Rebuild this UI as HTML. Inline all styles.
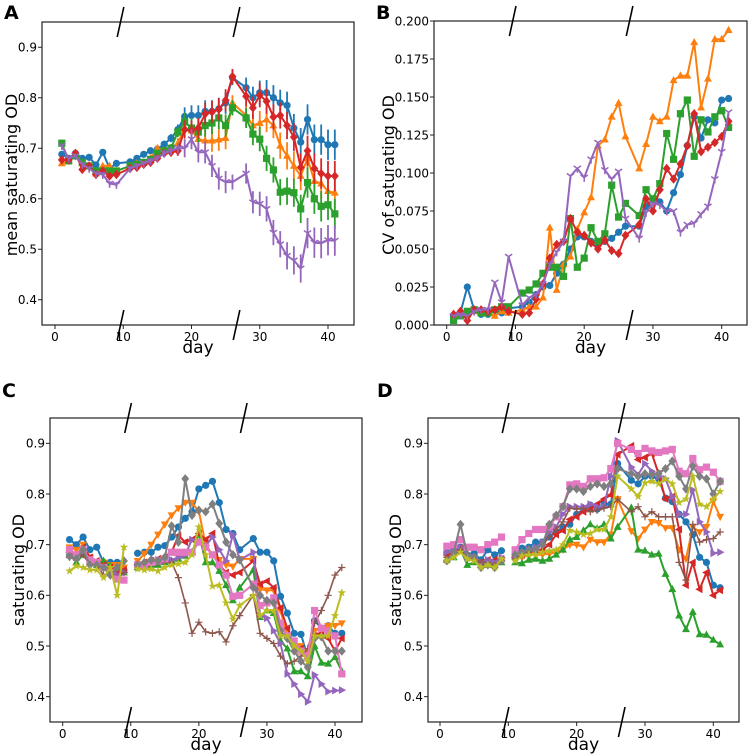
<!DOCTYPE html>
<html><head><meta charset="utf-8">
<style>
html,body{margin:0;padding:0;background:#fff;}
svg{display:block;font-family:"DejaVu Sans","Liberation Sans",sans-serif;}
</style></head>
<body>
<svg id="fig" width="749" height="756" viewBox="0 0 749 756" xmlns="http://www.w3.org/2000/svg"></svg>
<script>
const days=[1,2,3,4,5,6,7,8,9,11,12,13,14,15,16,17,18,19,20,21,22,23,24,25,26,28,29,30,31,32,33,34,35,36,37,38,39,40,41];
const xTicks=[0,10,20,30,40];
const odTicks=[0.4,0.5,0.6,0.7,0.8,0.9];
const odTickLabels=["0.4","0.5","0.6","0.7","0.8","0.9"];
const cvTicks=[0,0.025,0.05,0.075,0.1,0.125,0.15,0.175,0.2];
const cvTickLabels=["0.000","0.025","0.050","0.075","0.100","0.125","0.150","0.175","0.200"];

// Panel A: mean saturating OD
const aBlue=[0.688,0.68,0.69,0.68,0.682,0.667,0.692,0.66,0.67,0.673,0.68,0.688,0.695,0.698,0.708,0.72,0.737,0.763,0.765,0.765,0.773,0.773,0.778,0.79,0.84,0.82,0.80,0.81,0.81,0.80,0.79,0.785,0.74,0.712,0.757,0.717,0.717,0.707,0.707];
const aOrange=[0.67,0.675,0.69,0.67,0.665,0.65,0.665,0.665,0.655,0.665,0.67,0.672,0.68,0.70,0.695,0.70,0.71,0.74,0.735,0.718,0.715,0.715,0.717,0.72,0.79,0.765,0.745,0.75,0.757,0.745,0.705,0.685,0.665,0.645,0.68,0.635,0.63,0.615,0.612];
const aGreen=[0.71,0.675,0.685,0.672,0.665,0.655,0.655,0.655,0.655,0.665,0.668,0.672,0.678,0.69,0.695,0.70,0.732,0.752,0.74,0.732,0.745,0.75,0.76,0.745,0.78,0.76,0.728,0.718,0.68,0.657,0.613,0.615,0.612,0.58,0.632,0.60,0.585,0.588,0.57];
const aRed=[0.677,0.677,0.69,0.658,0.665,0.648,0.655,0.645,0.648,0.66,0.662,0.668,0.672,0.68,0.69,0.692,0.695,0.737,0.735,0.74,0.768,0.772,0.777,0.795,0.842,0.803,0.78,0.805,0.793,0.762,0.765,0.745,0.722,0.662,0.695,0.66,0.65,0.645,0.645];
const aPurple=[0.705,0.68,0.685,0.668,0.66,0.65,0.648,0.63,0.628,0.66,0.665,0.67,0.675,0.68,0.69,0.695,0.70,0.70,0.718,0.692,0.692,0.665,0.64,0.633,0.633,0.65,0.593,0.59,0.58,0.533,0.51,0.487,0.478,0.462,0.532,0.513,0.512,0.518,0.517];
const aErr=[0.004,0.004,0.004,0.004,0.004,0.004,0.005,0.005,0.005,0.005,0.005,0.005,0.006,0.007,0.007,0.008,0.01,0.018,0.02,0.02,0.022,0.022,0.022,0.022,0.015,0.02,0.022,0.024,0.025,0.025,0.026,0.027,0.028,0.028,0.03,0.03,0.03,0.03,0.03];

// Panel B: CV
const bBlue=[0.006,0.008,0.025,0.01,0.007,0.007,0.01,0.008,0.011,0.012,0.015,0.02,0.025,0.026,0.034,0.04,0.05,0.058,0.058,0.055,0.053,0.055,0.057,0.061,0.065,0.065,0.078,0.082,0.081,0.075,0.087,0.099,0.118,0.137,0.123,0.135,0.133,0.148,0.149];
const bOrange=[0.005,0.007,0.007,0.009,0.009,0.008,0.006,0.009,0.008,0.01,0.012,0.012,0.018,0.064,0.023,0.04,0.045,0.063,0.074,0.084,0.118,0.122,0.137,0.146,0.124,0.103,0.119,0.137,0.134,0.137,0.161,0.164,0.164,0.186,0.143,0.162,0.188,0.188,0.194];
const bGreen=[0.003,0.006,0.009,0.01,0.008,0.008,0.01,0.012,0.012,0.021,0.023,0.027,0.034,0.038,0.038,0.032,0.07,0.038,0.044,0.064,0.055,0.06,0.092,0.071,0.08,0.072,0.089,0.083,0.093,0.126,0.109,0.139,0.148,0.111,0.135,0.127,0.137,0.141,0.13];
const bRed=[0.007,0.009,0.003,0.01,0.01,0.009,0.01,0.012,0.009,0.007,0.008,0.017,0.027,0.044,0.053,0.055,0.07,0.061,0.059,0.054,0.05,0.056,0.049,0.047,0.059,0.066,0.083,0.075,0.089,0.103,0.096,0.106,0.118,0.139,0.114,0.117,0.12,0.124,0.134];
const bPurple=[0.006,0.007,0.006,0.009,0.01,0.01,0.028,0.015,0.045,0.013,0.018,0.02,0.027,0.04,0.048,0.055,0.098,0.103,0.097,0.109,0.12,0.102,0.096,0.101,0.07,0.057,0.074,0.08,0.079,0.075,0.075,0.061,0.066,0.067,0.073,0.078,0.096,0.114,0.14];

// Panel C
const cBlue=[0.71,0.70,0.715,0.69,0.695,0.665,0.665,0.665,0.65,0.683,0.685,0.685,0.695,0.698,0.715,0.735,0.752,0.765,0.81,0.817,0.825,0.783,0.73,0.722,0.69,0.712,0.685,0.685,0.668,0.598,0.565,0.525,0.523,0.478,0.55,0.535,0.54,0.525,0.525];
const cOrange=[0.695,0.69,0.70,0.675,0.665,0.665,0.66,0.66,0.655,0.668,0.682,0.70,0.72,0.74,0.758,0.772,0.783,0.783,0.765,0.70,0.68,0.67,0.66,0.657,0.672,0.672,0.612,0.61,0.61,0.57,0.52,0.50,0.50,0.49,0.53,0.535,0.54,0.54,0.545];
const cGreen=[0.685,0.665,0.68,0.668,0.66,0.668,0.658,0.64,0.645,0.655,0.655,0.655,0.66,0.665,0.668,0.672,0.678,0.685,0.722,0.665,0.665,0.648,0.62,0.59,0.615,0.65,0.557,0.57,0.565,0.51,0.495,0.45,0.45,0.44,0.50,0.467,0.465,0.478,0.45];
const cRed=[0.685,0.68,0.695,0.675,0.668,0.66,0.655,0.645,0.65,0.66,0.665,0.668,0.672,0.675,0.685,0.718,0.705,0.71,0.722,0.71,0.722,0.66,0.645,0.64,0.645,0.668,0.622,0.628,0.615,0.575,0.535,0.50,0.495,0.475,0.52,0.525,0.515,0.49,0.515];
const cPurple=[0.68,0.675,0.685,0.67,0.665,0.655,0.645,0.64,0.645,0.66,0.66,0.665,0.67,0.668,0.67,0.675,0.68,0.71,0.705,0.698,0.715,0.69,0.668,0.72,0.67,0.685,0.56,0.555,0.53,0.505,0.445,0.425,0.405,0.39,0.443,0.425,0.41,0.412,0.413];
const cBrown=[0.675,0.67,0.68,0.66,0.66,0.64,0.645,0.635,0.645,0.655,0.655,0.66,0.665,0.665,0.665,0.635,0.585,0.525,0.547,0.528,0.525,0.528,0.508,0.54,0.56,0.60,0.525,0.515,0.505,0.48,0.465,0.47,0.48,0.495,0.545,0.57,0.60,0.64,0.655];
const cPink=[0.69,0.68,0.69,0.67,0.665,0.655,0.645,0.632,0.63,0.66,0.66,0.665,0.668,0.672,0.685,0.685,0.685,0.685,0.705,0.695,0.68,0.66,0.64,0.598,0.60,0.622,0.58,0.585,0.595,0.545,0.52,0.51,0.49,0.48,0.57,0.535,0.53,0.52,0.445];
const cGray=[0.677,0.672,0.69,0.66,0.66,0.655,0.64,0.655,0.668,0.66,0.665,0.67,0.668,0.675,0.737,0.705,0.83,0.758,0.768,0.765,0.78,0.742,0.705,0.68,0.67,0.615,0.60,0.59,0.585,0.53,0.515,0.49,0.47,0.458,0.515,0.518,0.49,0.49,0.49];
const cOlive=[0.648,0.658,0.655,0.65,0.65,0.635,0.655,0.60,0.695,0.652,0.65,0.652,0.648,0.655,0.66,0.662,0.665,0.68,0.735,0.68,0.618,0.62,0.585,0.553,0.58,0.60,0.56,0.57,0.57,0.52,0.52,0.50,0.49,0.47,0.52,0.52,0.52,0.56,0.605];

// Panel D
const dBlue=[0.685,0.69,0.695,0.68,0.683,0.67,0.69,0.68,0.688,0.68,0.693,0.695,0.705,0.705,0.715,0.725,0.735,0.74,0.76,0.77,0.778,0.77,0.78,0.78,0.86,0.827,0.82,0.835,0.835,0.83,0.792,0.785,0.76,0.745,0.72,0.675,0.665,0.62,0.615];
const dOrange=[0.675,0.68,0.69,0.675,0.672,0.66,0.665,0.66,0.668,0.672,0.675,0.68,0.68,0.68,0.682,0.685,0.69,0.70,0.70,0.695,0.71,0.705,0.705,0.72,0.79,0.727,0.712,0.73,0.745,0.743,0.733,0.733,0.69,0.672,0.735,0.725,0.735,0.785,0.755];
const dGreen=[0.67,0.675,0.69,0.66,0.665,0.66,0.66,0.665,0.665,0.665,0.663,0.67,0.672,0.668,0.672,0.68,0.69,0.71,0.715,0.728,0.74,0.732,0.74,0.712,0.735,0.773,0.69,0.688,0.68,0.682,0.642,0.612,0.56,0.533,0.567,0.523,0.522,0.512,0.503];
const dRed=[0.68,0.685,0.693,0.675,0.672,0.665,0.67,0.67,0.672,0.675,0.68,0.685,0.69,0.69,0.70,0.72,0.728,0.75,0.755,0.765,0.77,0.78,0.79,0.798,0.878,0.895,0.868,0.872,0.88,0.84,0.79,0.795,0.73,0.62,0.665,0.612,0.645,0.60,0.61];
const dPurple=[0.685,0.69,0.695,0.675,0.675,0.665,0.67,0.665,0.675,0.675,0.68,0.69,0.695,0.705,0.725,0.735,0.76,0.775,0.775,0.775,0.78,0.775,0.775,0.835,0.905,0.853,0.838,0.86,0.845,0.835,0.83,0.795,0.76,0.76,0.808,0.745,0.725,0.683,0.685];
const dBrown=[0.675,0.68,0.69,0.675,0.675,0.665,0.665,0.66,0.668,0.672,0.68,0.685,0.69,0.70,0.715,0.73,0.745,0.772,0.77,0.772,0.765,0.768,0.772,0.775,0.79,0.765,0.775,0.755,0.765,0.755,0.755,0.755,0.665,0.63,0.74,0.705,0.71,0.712,0.725];
const dPink=[0.697,0.70,0.71,0.695,0.695,0.69,0.70,0.705,0.715,0.69,0.71,0.722,0.73,0.73,0.735,0.755,0.775,0.818,0.82,0.815,0.83,0.83,0.832,0.85,0.90,0.888,0.88,0.89,0.885,0.882,0.885,0.888,0.845,0.84,0.87,0.848,0.853,0.843,0.825];
const dGray=[0.668,0.685,0.74,0.68,0.675,0.655,0.66,0.655,0.668,0.68,0.685,0.69,0.69,0.70,0.74,0.758,0.775,0.81,0.81,0.805,0.815,0.82,0.815,0.82,0.85,0.84,0.835,0.84,0.838,0.84,0.85,0.865,0.835,0.81,0.855,0.835,0.83,0.80,0.825];
const dOlive=[0.668,0.675,0.685,0.672,0.668,0.655,0.66,0.655,0.672,0.668,0.678,0.68,0.68,0.685,0.688,0.69,0.70,0.728,0.725,0.72,0.722,0.73,0.73,0.755,0.835,0.81,0.795,0.822,0.825,0.82,0.83,0.82,0.783,0.79,0.835,0.78,0.775,0.79,0.805];

const C={blue:"#1f77b4",orange:"#ff7f0e",green:"#2ca02c",red:"#d62728",purple:"#9467bd",brown:"#8c564b",pink:"#e377c2",gray:"#7f7f7f",olive:"#bcbd22"};
const NS="http://www.w3.org/2000/svg";
const svg=document.getElementById('fig');
function mk(tag,attrs,parent){const e=document.createElementNS(NS,tag);for(const k in attrs)e.setAttribute(k,attrs[k]);(parent||svg).appendChild(e);return e;}

const panels=[
 {id:"a",letter:"A",lx:4,ly:19,L:42,R:354,T:22,B:325,x0:55,x40:328,ymin:0.35,ymax:0.95,ticks:odTicks,tl:odTickLabels,ylabel:"mean saturating OD",ylx:17,yly:175,gap:false},
 {id:"b",letter:"B",lx:376,ly:19,L:434,R:747,T:21,B:325,x0:446.7,x40:721.7,ymin:0,ymax:0.2,ticks:cvTicks,tl:cvTickLabels,ylabel:"CV of saturating OD",ylx:394,yly:175,gap:false},
 {id:"c",letter:"C",lx:2,ly:397,L:50,R:362,T:418,B:722,x0:62.7,x40:335,ymin:0.35,ymax:0.95,ticks:odTicks,tl:odTickLabels,ylabel:"saturating OD",ylx:24,yly:570,gap:true},
 {id:"d",letter:"D",lx:377,ly:397,L:428,R:739,T:418,B:722,x0:440,x40:713.3,ymin:0.35,ymax:0.95,ticks:odTicks,tl:odTickLabels,ylabel:"saturating OD",ylx:401,yly:570,gap:true}
];
const series={
 a:[["blue",aBlue,"o",aErr],["orange",aOrange,"^",aErr],["green",aGreen,"s",aErr],["red",aRed,"D",aErr],["purple",aPurple,"1",aErr]],
 b:[["blue",bBlue,"o"],["orange",bOrange,"^"],["green",bGreen,"s"],["red",bRed,"D"],["purple",bPurple,"1"]],
 c:[["blue",cBlue,"o"],["orange",cOrange,"v"],["green",cGreen,"^"],["red",cRed,"<"],["purple",cPurple,">"],["brown",cBrown,"+"],["pink",cPink,"s"],["gray",cGray,"D"],["olive",cOlive,"*"]],
 d:[["blue",dBlue,"o"],["orange",dOrange,"v"],["green",dGreen,"^"],["red",dRed,"<"],["purple",dPurple,">"],["brown",dBrown,"+"],["pink",dPink,"s"],["gray",dGray,"D"],["olive",dOlive,"*"]]
};

function marker(g,type,x,y,col){
 const r=3.6;let e;
 if(type==="o")e=mk('circle',{cx:x,cy:y,r:r,fill:col},g);
 else if(type==="s")e=mk('rect',{x:x-r,y:y-r,width:2*r,height:2*r,fill:col},g);
 else if(type==="D")e=mk('polygon',{points:`${x},${y-r*1.3} ${x+r*1.1},${y} ${x},${y+r*1.3} ${x-r*1.1},${y}`,fill:col},g);
 else if(type==="^")e=mk('polygon',{points:`${x},${y-r*1.2} ${x+r*1.1},${y+r*0.8} ${x-r*1.1},${y+r*0.8}`,fill:col},g);
 else if(type==="v")e=mk('polygon',{points:`${x},${y+r*1.2} ${x+r*1.1},${y-r*0.8} ${x-r*1.1},${y-r*0.8}`,fill:col},g);
 else if(type==="<")e=mk('polygon',{points:`${x-r*1.2},${y} ${x+r*0.8},${y-r*1.1} ${x+r*0.8},${y+r*1.1}`,fill:col},g);
 else if(type===">")e=mk('polygon',{points:`${x+r*1.2},${y} ${x-r*0.8},${y-r*1.1} ${x-r*0.8},${y+r*1.1}`,fill:col},g);
 else if(type==="+")e=mk('path',{d:`M${x-r},${y}H${x+r}M${x},${y-r}V${y+r}`,stroke:col,'stroke-width':1.2,fill:'none'},g);
 else if(type==="1")e=mk('path',{d:`M${x},${y}V${y+r*1.2}M${x},${y}L${x-r},${y-r*0.7}M${x},${y}L${x+r},${y-r*0.7}`,stroke:col,'stroke-width':1.5,fill:'none'},g);
 else {let p=[];for(let i=0;i<10;i++){const a=-Math.PI/2+i*Math.PI/5;const rr=i%2?r*0.5:r*1.25;p.push((x+rr*Math.cos(a)).toFixed(1)+','+(y+rr*Math.sin(a)).toFixed(1));}
   e=mk('polygon',{points:p.join(' '),fill:col},g);}
 
 
}

panels.forEach(P=>{
 const g=mk('g',{});
 
 
 const sx=d=>P.x0+(P.x40-P.x0)*d/40;
 const sy=v=>P.B-(v-P.ymin)/(P.ymax-P.ymin)*(P.B-P.T);
 const pl=mk('text',{x:P.lx,y:P.ly,'font-size':19,'font-weight':'bold',fill:'#000'},g);pl.textContent=P.letter;
 
 const sg=mk('g',{},g);
 
 series[P.id].forEach(([cn,vals,mt,err])=>{
   const col=C[cn];
   const s=mk('g',{},sg);
   
   
   let d="";
   days.forEach((dy,i)=>{const cmd=(i===0||(P.gap&&dy===11))?"M":"L";d+=cmd+sx(dy).toFixed(1)+","+sy(vals[i]).toFixed(1);});
   const ln=mk('path',{d:d,fill:'none',stroke:col,'stroke-width':mt==="+"?1.6:2,'stroke-linejoin':'round'},s);
   
   if(err){days.forEach((dy,i)=>{const eb=mk('line',{x1:sx(dy),x2:sx(dy),y1:sy(vals[i]-err[i]),y2:sy(vals[i]+err[i]),stroke:col,'stroke-width':1.8},s);
     });}
   days.forEach((dy,i)=>marker(s,mt,sx(dy),sy(vals[i]),col));
 });
 const fr=mk('rect',{x:P.L,y:P.T,width:P.R-P.L,height:P.B-P.T,fill:'none',stroke:'#222','stroke-width':1.2},g);
 
 xTicks.forEach(t=>{const x=sx(t);const tk=mk('line',{x1:x,x2:x,y1:P.B,y2:P.B+4,stroke:'#222','stroke-width':1},g);
  
  const tx=mk('text',{x:x,y:P.B+16,'font-size':12,'text-anchor':'middle',fill:'#000'},g);tx.textContent=String(t);
  });
 P.ticks.forEach((t,i)=>{const y=sy(t);const tk=mk('line',{x1:P.L-4,x2:P.L,y1:y,y2:y,stroke:'#222','stroke-width':1},g);
  
  const tx=mk('text',{x:P.L-5,y:y+4.3,'font-size':12,'text-anchor':'end',fill:'#000'},g);tx.textContent=P.tl[i];
  });
 const xl=mk('text',{x:(P.L+P.R)/2,y:P.B+28,'font-size':17,'text-anchor':'middle',fill:'#000'},g);xl.textContent="day";
 
 const yl=mk('text',{x:0,y:0,'font-size':16,'text-anchor':'middle',fill:'#000',transform:`translate(${P.ylx},${P.yly}) rotate(-90)`},g);yl.textContent=P.ylabel;
 
 [9.6,26.6].forEach(bd=>{const x=sx(bd);[P.T,P.B].forEach(y=>{
   const bm=mk('line',{x1:x-3.3,y1:y+15,x2:x+3.3,y2:y-15,stroke:'#000','stroke-width':1.6},g);
   });});
});
</script>
</body></html>
